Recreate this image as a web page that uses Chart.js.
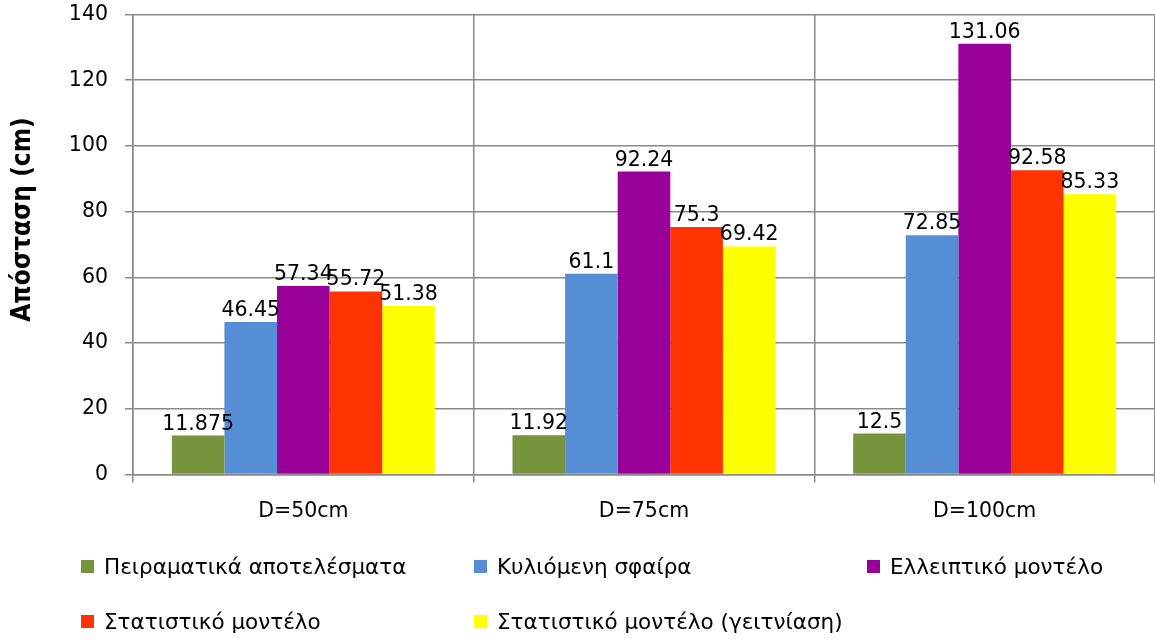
<!DOCTYPE html>
<html>
<head>
<meta charset="utf-8">
<script src="https://cdn.jsdelivr.net/npm/chart.js@4/dist/chart.umd.min.js"></script>
<style>
  html, body { margin: 0; padding: 0; background: #fff; }
  #wrap { position: relative; width: 1155px; height: 639px; overflow: hidden; }
  #c { position: absolute; left: 0; top: 0; }
  #legend {
    position: absolute; left: 81px; top: 552px;
    display: grid; grid-template-columns: 393px 393px 300px; grid-auto-rows: 55px;
    font-family: "DejaVu Sans", sans-serif; font-size: 21.5px; color: #000;
  }
  .item { display: flex; align-items: center; height: 28px; white-space: nowrap; }
  .sw { width: 13px; height: 13px; margin-right: 10px; flex: none; }
</style>
</head>
<body>
<div id="wrap">
  <canvas id="c" width="1155" height="639"></canvas>
  <div id="legend"></div>
</div>
<script>
const categories = ['D=50cm', 'D=75cm', 'D=100cm'];
const seriesNames = [
  'Πειραματικά αποτελέσματα',
  'Κυλιόμενη σφαίρα',
  'Ελλειπτικό μοντέλο',
  'Στατιστικό μοντέλο',
  'Στατιστικό μοντέλο (γειτνίαση)'
];
const experimental = [11.875, 11.92, 12.5];
const rollingSphere = [46.45, 61.1, 72.85];
const ellipticModel = [57.34, 92.24, 131.06];
const statisticalModel = [55.72, 75.3, 92.58];
const statisticalNeighbour = [51.38, 69.42, 85.33];
const seriesColors = ['#77933C', '#558ED5', '#990099', '#FF3300', '#FFFF00'];
const yMin = 0, yMax = 140, yStep = 20;
const axisTitle = 'Απόσταση (cm)';

const seriesValues = [experimental, rollingSphere, ellipticModel, statisticalModel, statisticalNeighbour];

const valueLabels = {
  id: 'valueLabels',
  afterDatasetsDraw(chart) {
    const ctx = chart.ctx;
    ctx.save();
    ctx.font = '20.5px "DejaVu Sans"';
    ctx.fillStyle = '#000';
    ctx.textAlign = 'center';
    ctx.textBaseline = 'bottom';
    chart.data.datasets.forEach((ds, i) => {
      const meta = chart.getDatasetMeta(i);
      meta.data.forEach((el, j) => {
        ctx.fillText(String(ds.data[j]), el.x, el.y - 1);
      });
    });
    ctx.restore();
  }
};

const yTitle = {
  id: 'yTitle',
  afterDraw(chart) {
    const ctx = chart.ctx;
    const a = chart.chartArea;
    ctx.save();
    ctx.translate(23, (a.top + a.bottom) / 2 - 25);
    ctx.rotate(-Math.PI / 2);
    ctx.font = 'bold 26px "DejaVu Sans Condensed", "DejaVu Sans"';
    ctx.fillStyle = '#000';
    ctx.textAlign = 'center';
    ctx.textBaseline = 'middle';
    ctx.fillText(axisTitle, 0, 0);
    ctx.restore();
  }
};

const gridColor = '#8a8a8a';
const chart = new Chart(document.getElementById('c'), {
  type: 'bar',
  data: {
    labels: categories,
    datasets: seriesNames.map((n, i) => ({
      label: n,
      data: seriesValues[i],
      backgroundColor: seriesColors[i],
      borderWidth: 0,
      categoryPercentage: 0.772,
      barPercentage: 1.0
    }))
  },
  options: {
    responsive: false,
    animation: false,
    layout: { padding: { top: 14.5, right: 0, bottom: 114.5, left: 0 } },
    plugins: { legend: { display: false }, tooltip: { enabled: false } },
    scales: {
      x: {
        offset: true,
        grid: { offset: true, color: gridColor, lineWidth: 1.5, tickLength: 8 },
        border: { color: gridColor, width: 1.5 },
        ticks: { color: '#000', font: { size: 20.5, family: 'DejaVu Sans' }, padding: 17 },
        afterFit(s) { s.height = 50; s.paddingLeft = 0; s.paddingRight = 0; }
      },
      y: {
        min: yMin, max: yMax,
        ticks: { stepSize: yStep, color: '#000', font: { size: 20.5, family: 'DejaVu Sans' }, padding: 17 },
        grid: { color: gridColor, lineWidth: 1.5, tickLength: 8 },
        border: { color: gridColor, width: 1.5 },
        title: { display: false },
        afterFit(s) { s.width = 133; s.paddingTop = 0; s.paddingBottom = 0; }
      }
    }
  },
  plugins: [valueLabels, yTitle]
});

const legend = document.getElementById('legend');
chart.data.datasets.forEach(ds => {
  const item = document.createElement('div');
  item.className = 'item';
  const sw = document.createElement('span');
  sw.className = 'sw';
  sw.style.background = ds.backgroundColor;
  const tx = document.createElement('span');
  tx.textContent = ds.label;
  item.appendChild(sw);
  item.appendChild(tx);
  legend.appendChild(item);
});
</script>
</body>
</html>
